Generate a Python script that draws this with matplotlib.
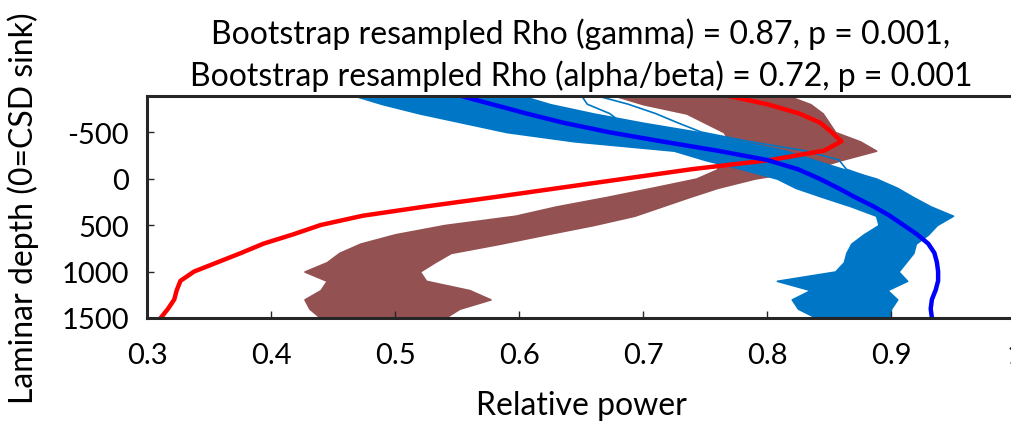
import matplotlib
matplotlib.use("Agg")
import matplotlib.pyplot as plt

# depth samples (um, 0 = CSD sink)
DEPTH = [-900, -800, -700, -600, -500, -400, -300, -200, -100, 0, 100, 200, 300,
         400, 500, 600, 700, 800, 900, 1000, 1100, 1200, 1300, 1400, 1500]

# mean relative power profiles
GAMMA_MEAN = [0.765, 0.800, 0.826, 0.843, 0.852, 0.860, 0.846, 0.803, 0.739, 0.686,
              0.633, 0.580, 0.525, 0.474, 0.440, 0.418, 0.394, 0.376, 0.357, 0.338,
              0.327, 0.324, 0.322, 0.317, 0.311]
ALPHA_MEAN = [0.550, 0.578, 0.606, 0.636, 0.672, 0.715, 0.760, 0.800, 0.825, 0.842,
              0.857, 0.871, 0.886, 0.899, 0.910, 0.921, 0.930, 0.935, 0.937, 0.938,
              0.938, 0.936, 0.933, 0.932, 0.933]

# spread of the bootstrap resampled profiles (min / max at each depth)
GAMMA_BOOT_LO = [0.675, 0.700, 0.735, 0.750, 0.765, 0.770, 0.765, 0.760, 0.760, 0.743,
                 0.707, 0.670, 0.630, 0.597, 0.540, 0.500, 0.472, 0.455, 0.445, 0.427,
                 0.445, 0.440, 0.427, 0.431, 0.440]
GAMMA_BOOT_HI = [0.815, 0.835, 0.845, 0.850, 0.855, 0.875, 0.888, 0.860, 0.835, 0.790,
                 0.760, 0.737, 0.715, 0.693, 0.660, 0.622, 0.585, 0.545, 0.532, 0.520,
                 0.525, 0.560, 0.577, 0.552, 0.540]
ALPHA_BOOT_LO = [0.465, 0.490, 0.520, 0.555, 0.590, 0.645, 0.725, 0.750, 0.780, 0.808,
                 0.823, 0.845, 0.868, 0.888, 0.890, 0.878, 0.868, 0.864, 0.862, 0.855,
                 0.808, 0.835, 0.820, 0.825, 0.840]
ALPHA_BOOT_HI = [0.600, 0.625, 0.660, 0.700, 0.745, 0.780, 0.815, 0.838, 0.862, 0.888,
                 0.905, 0.918, 0.932, 0.950, 0.937, 0.930, 0.920, 0.918, 0.912, 0.906,
                 0.913, 0.897, 0.905, 0.900, 0.899]

# a couple of single alpha/beta resamples that stray above the band
OUTLIER_DEPTH_A = [-900, -800, -700, -600, -500]
OUTLIER_A = [0.650, 0.655, 0.673, 0.683, 0.710]
OUTLIER_DEPTH_B = [-900, -800, -700, -600, -500, -400, -300, -200, -100, 0]
OUTLIER_B = [0.660, 0.688, 0.710, 0.728, 0.747, 0.785, 0.830, 0.858, 0.864, 0.885]

TITLE = ("Bootstrap resampled Rho (gamma) = 0.87, p = 0.001,\n"
         "Bootstrap resampled Rho (alpha/beta) = 0.72, p = 0.001")

BROWN = "#945151"
LIGHT_BLUE = "#0077C6"

plt.rcParams["font.family"] = ["Lato", "DejaVu Sans"]
plt.rcParams["axes.unicode_minus"] = False

fig = plt.figure(figsize=(10.12, 4.31), dpi=100)
ax = fig.add_axes([147 / 1012, 112 / 431, 868 / 1012, 222 / 431])

ax.fill_betweenx(DEPTH, GAMMA_BOOT_LO, GAMMA_BOOT_HI, color=BROWN, lw=1.2)
ax.fill_betweenx(DEPTH, ALPHA_BOOT_LO, ALPHA_BOOT_HI, color=LIGHT_BLUE, lw=1.2)
ax.plot(OUTLIER_A, OUTLIER_DEPTH_A, color=LIGHT_BLUE, lw=1.2)
ax.plot(OUTLIER_B, OUTLIER_DEPTH_B, color=LIGHT_BLUE, lw=1.2)
ax.plot(GAMMA_MEAN, DEPTH, color="#ff0000", lw=3.2)
ax.plot(ALPHA_MEAN, DEPTH, color="#0000ff", lw=3.2)

ax.set_xlim(0.3, 1.0)
ax.set_ylim(1500, -888)
ax.set_xticks([0.3, 0.4, 0.5, 0.6, 0.7, 0.8, 0.9, 1.0])
ax.set_xticklabels(["0.3", "0.4", "0.5", "0.6", "0.7", "0.8", "0.9", "1"])
ax.set_yticks([-500, 0, 500, 1000, 1500])

for side in ["left", "bottom", "top", "right"]:
    ax.spines[side].set_linewidth(2.2)
    ax.spines[side].set_color("#262626")
ax.tick_params(direction="in", length=5, width=1, color="#262626", labelsize=21)
ax.tick_params(axis="x", pad=17)
ax.tick_params(axis="y", pad=13)

ax.set_xlabel("Relative power", fontsize=23, labelpad=16)
ax.set_ylabel("Laminar depth (0=CSD sink)", fontsize=23, labelpad=16)
ax.set_title(TITLE, fontsize=23, pad=8, linespacing=1.4)

fig.savefig("out.png", dpi=100)
